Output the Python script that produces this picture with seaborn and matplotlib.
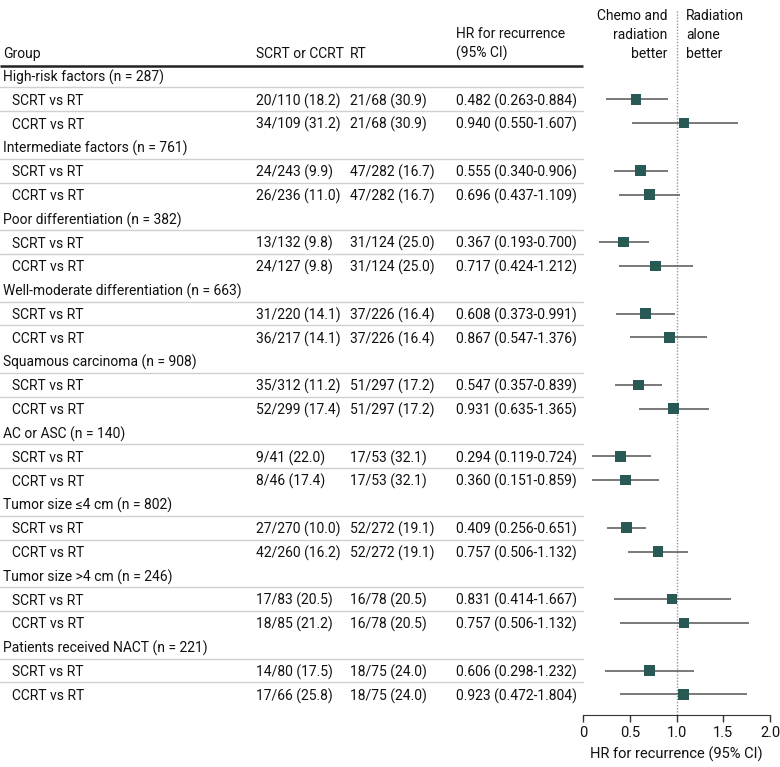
import matplotlib
matplotlib.use("Agg")
import matplotlib.pyplot as plt
import matplotlib.transforms as mtransforms
import seaborn as sns
import pandas as pd

# Table data
groups = ["High-risk factors (n = 287)", "Intermediate factors (n = 761)",
          "Poor differentiation (n = 382)", "Well-moderate differentiation (n = 663)",
          "Squamous carcinoma (n = 908)", "AC or ASC (n = 140)",
          "Tumor size \u22644 cm (n = 802)", "Tumor size >4 cm (n = 246)",
          "Patients received NACT (n = 221)"]
comparisons = ["SCRT vs RT", "CCRT vs RT"]

treat_events = ["20/110 (18.2)", "34/109 (31.2)", "24/243 (9.9)", "26/236 (11.0)",
                "13/132 (9.8)", "24/127 (9.8)", "31/220 (14.1)", "36/217 (14.1)",
                "35/312 (11.2)", "52/299 (17.4)", "9/41 (22.0)", "8/46 (17.4)",
                "27/270 (10.0)", "42/260 (16.2)", "17/83 (20.5)", "18/85 (21.2)",
                "14/80 (17.5)", "17/66 (25.8)"]
rt_events = ["21/68 (30.9)", "21/68 (30.9)", "47/282 (16.7)", "47/282 (16.7)",
             "31/124 (25.0)", "31/124 (25.0)", "37/226 (16.4)", "37/226 (16.4)",
             "51/297 (17.2)", "51/297 (17.2)", "17/53 (32.1)", "17/53 (32.1)",
             "52/272 (19.1)", "52/272 (19.1)", "16/78 (20.5)", "16/78 (20.5)",
             "18/75 (24.0)", "18/75 (24.0)"]
hr_text = ["0.482 (0.263-0.884)", "0.940 (0.550-1.607)", "0.555 (0.340-0.906)",
           "0.696 (0.437-1.109)", "0.367 (0.193-0.700)", "0.717 (0.424-1.212)",
           "0.608 (0.373-0.991)", "0.867 (0.547-1.376)", "0.547 (0.357-0.839)",
           "0.931 (0.635-1.365)", "0.294 (0.119-0.724)", "0.360 (0.151-0.859)",
           "0.409 (0.256-0.651)", "0.757 (0.506-1.132)", "0.831 (0.414-1.667)",
           "0.757 (0.506-1.132)", "0.606 (0.298-1.232)", "0.923 (0.472-1.804)"]

# Plotted estimates as drawn in the figure
est = [0.565, 1.08, 0.61, 0.71, 0.43, 0.775, 0.67, 0.92, 0.59,
       0.97, 0.40, 0.45, 0.46, 0.80, 0.95, 1.08, 0.71, 1.07]
lo = [0.24, 0.52, 0.33, 0.38, 0.17, 0.385, 0.35, 0.50, 0.34,
      0.60, 0.09, 0.09, 0.25, 0.475, 0.33, 0.39, 0.23, 0.39]
hi = [0.91, 1.66, 0.91, 1.04, 0.70, 1.18, 0.98, 1.33, 0.84,
      1.35, 0.73, 0.81, 0.67, 1.12, 1.58, 1.78, 1.19, 1.75]

sns.set_style("white")
plt.rcParams["font.family"] = ["Roboto", "DejaVu Sans"]
plt.rcParams["font.size"] = 10
plt.rcParams["text.color"] = "#111111"

W, H = 780, 767
fig = plt.figure(figsize=(W / 100, H / 100), dpi=100)
ax = fig.add_axes([583.3 / W, 52 / H, (770 - 583.3) / W, (715 - 10) / H])

# row positions: group header then two comparisons
rows = []
for g in range(len(groups)):
    rows.append(g * 3 + 1)
    rows.append(g * 3 + 2)
df = pd.DataFrame({"row": rows, "est": est, "lo": lo, "hi": hi})

ax.hlines(df["row"], df["lo"], df["hi"], color="#555555", lw=1.1, zorder=2)
sns.scatterplot(data=df, x="est", y="row", marker="s", s=60, color="#285955",
                edgecolor="none", ax=ax, zorder=3)
ax.axvline(1.0, color="#999999", lw=1, ls=(0, (1, 1.2)), zorder=1)

ax.set_xlim(0, 2.0)
ax.set_ylim((715 - 75.5) / 23.8, (10 - 75.5) / 23.8)
ax.set_xticks([0, 0.5, 1.0, 1.5, 2.0])
ax.set_xticklabels(["0", "0.5", "1.0", "1.5", "2.0"])
ax.set_yticks([])
ax.set_xlabel("HR for recurrence (95% CI)", fontsize=10.5, labelpad=5, color="#111111")
ax.set_ylabel("")
for s in ["top", "right", "left"]:
    ax.spines[s].set_visible(False)
ax.spines["bottom"].set_color("#333333")
ax.tick_params(axis="x", direction="out", length=5, width=1, color="#333333",
               labelsize=10.5, pad=3, bottom=True, labelcolor="#111111")
ax.patch.set_alpha(0)

# table text: x in figure pixels, y in row units
tr = mtransforms.blended_transform_factory(fig.transFigure, ax.transData)
fx = lambda px: px / W

hy = -0.9
hb = hy + 0.3  # bottom for multi-line headers
ax.text(fx(3), hy, "Group", transform=tr, va="center", ha="left")
ax.text(fx(256), hy, "SCRT or CCRT", transform=tr, va="center", ha="left")
ax.text(fx(350), hy, "RT", transform=tr, va="center", ha="left")
ax.text(fx(456), hb, "HR for recurrence\n(95% CI)", transform=tr, va="bottom", ha="left",
        linespacing=1.45)
ax.text(0.9, hb, "Chemo and\nradiation\nbetter", va="bottom", ha="right", linespacing=1.45)
ax.text(1.1, hb, "Radiation\nalone\nbetter", va="bottom", ha="left", linespacing=1.45)

ax.plot([fx(0), fx(583)], [-0.4, -0.4], transform=tr, color="#222222", lw=1.8,
        clip_on=False, solid_capstyle="butt")

for g, name in enumerate(groups):
    r0 = g * 3
    ax.text(fx(3), r0, name, transform=tr, va="center_baseline", ha="left")
    for k in range(2):
        i = g * 2 + k
        r = r0 + 1 + k
        ax.text(fx(12), r, comparisons[k], transform=tr, va="center_baseline", ha="left")
        ax.text(fx(256), r, treat_events[i], transform=tr, va="center_baseline", ha="left")
        ax.text(fx(350), r, rt_events[i], transform=tr, va="center_baseline", ha="left")
        ax.text(fx(456), r, hr_text[i], transform=tr, va="center_baseline", ha="left")
        ax.plot([fx(0), fx(583)], [r - 0.5, r - 0.5], transform=tr, color="#d0d0d0",
                lw=1, clip_on=False)

fig.savefig("out.png", dpi=100)
